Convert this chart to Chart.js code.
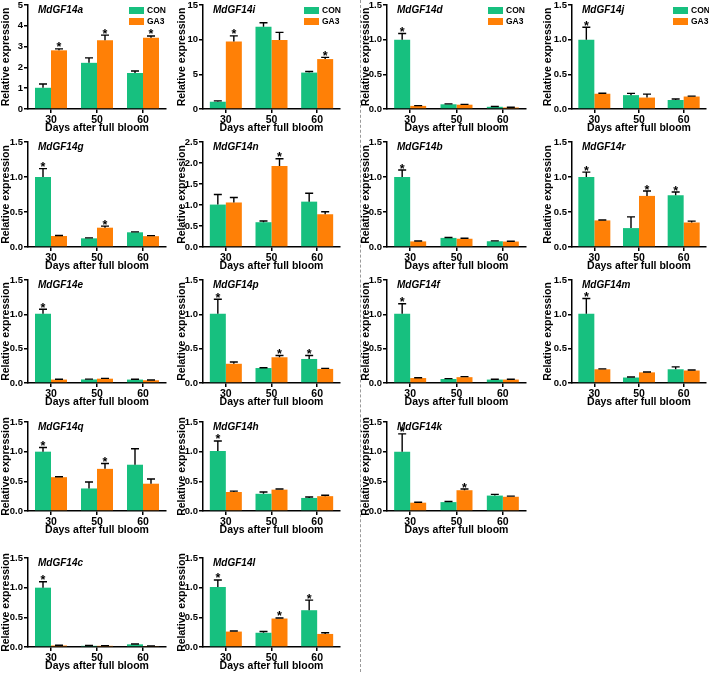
<!DOCTYPE html>
<html><head><meta charset="utf-8">
<script src="https://cdn.jsdelivr.net/npm/chart.js@4.4.0/dist/chart.umd.min.js"></script>
<style>
html,body{margin:0;padding:0;background:#fff;width:709px;height:683px;overflow:hidden;position:relative}
canvas{position:absolute}
#sep{position:absolute;left:360px;top:0;height:672px;border-left:1.5px dashed #9a9a9a}
</style></head><body>
<div id="sep"></div>
<script>
// ---------- data ----------
const days = ['30', '50', '60'];
const seriesNames = ['CON', 'GA3'];
const xTitle = 'Days after full bloom';
const yTitle = 'Relative expression';

const a_CON = [1.02, 2.22, 1.73], a_CONerr = [0.18, 0.24, 0.10];
const a_GA3 = [2.82, 3.30, 3.42], a_GA3err = [0.07, 0.25, 0.09];
const a_sig = ['G', 'G', 'G'];

const i_CON = [1.05, 11.85, 5.25], i_CONerr = [0.12, 0.60, 0.15];
const i_GA3 = [9.75, 9.95, 7.20], i_GA3err = [0.80, 1.10, 0.25];
const i_sig = ['G', '', 'G'];

const d_CON = [1.00, 0.068, 0.032], d_CONerr = [0.09, 0.006, 0.004];
const d_GA3 = [0.045, 0.062, 0.022], d_GA3err = [0.004, 0.005, 0.004];
const d_sig = ['C', '', ''];

const j_CON = [1.00, 0.20, 0.13], j_CONerr = [0.18, 0.025, 0.015];
const j_GA3 = [0.22, 0.165, 0.18], j_GA3err = [0.007, 0.05, 0.006];
const j_sig = ['C', '', ''];

const g_CON = [1.00, 0.124, 0.21], g_CONerr = [0.12, 0.006, 0.006];
const g_GA3 = [0.157, 0.276, 0.155], g_GA3err = [0.008, 0.022, 0.008];
const g_sig = ['C', 'G', ''];

const n_CON = [1.01, 0.59, 1.08], n_CONerr = [0.24, 0.03, 0.20];
const n_GA3 = [1.06, 1.93, 0.78], n_GA3err = [0.12, 0.17, 0.06];
const n_sig = ['', 'G', ''];

const b_CON = [1.00, 0.13, 0.082], b_CONerr = [0.10, 0.006, 0.005];
const b_GA3 = [0.08, 0.118, 0.078], b_GA3err = [0.005, 0.008, 0.005];
const b_sig = ['C', '', ''];

const r_CON = [1.00, 0.27, 0.74], r_CONerr = [0.07, 0.16, 0.045];
const r_GA3 = [0.38, 0.73, 0.35], r_GA3err = [0.006, 0.07, 0.02];
const r_sig = ['C', 'G', 'C'];

const e_CON = [1.01, 0.052, 0.05], e_CONerr = [0.065, 0.005, 0.004];
const e_GA3 = [0.05, 0.063, 0.04], e_GA3err = [0.005, 0.005, 0.004];
const e_sig = ['C', '', ''];

const p_CON = [1.01, 0.218, 0.35], p_CONerr = [0.21, 0.005, 0.05];
const p_GA3 = [0.28, 0.375, 0.205], p_GA3err = [0.025, 0.025, 0.008];
const p_sig = ['C', 'G', 'C'];

const f_CON = [1.01, 0.058, 0.05], f_CONerr = [0.145, 0.006, 0.004];
const f_GA3 = [0.072, 0.085, 0.05], f_GA3err = [0.005, 0.008, 0.004];
const f_sig = ['C', '', ''];

const m_CON = [1.01, 0.08, 0.20], m_CONerr = [0.22, 0.008, 0.035];
const m_GA3 = [0.20, 0.155, 0.182], m_GA3err = [0.005, 0.005, 0.008];
const m_sig = ['C', '', ''];

const q_CON = [1.00, 0.38, 0.78], q_CONerr = [0.07, 0.11, 0.27];
const q_GA3 = [0.57, 0.71, 0.46], q_GA3err = [0.008, 0.09, 0.08];
const q_sig = ['C', 'G', ''];

const h_CON = [1.01, 0.29, 0.22], h_CONerr = [0.17, 0.03, 0.015];
const h_GA3 = [0.32, 0.36, 0.25], h_GA3err = [0.015, 0.01, 0.015];
const h_sig = ['C', '', ''];

const k_CON = [1.00, 0.15, 0.26], k_CONerr = [0.30, 0.01, 0.02];
const k_GA3 = [0.14, 0.35, 0.24], k_GA3err = [0.008, 0.02, 0.01];
const k_sig = ['C', 'G', ''];

const c_CON = [1.00, 0.02, 0.045], c_CONerr = [0.10, 0.005, 0.005];
const c_GA3 = [0.025, 0.02, 0.015], c_GA3err = [0.004, 0.004, 0.004];
const c_sig = ['C', '', ''];

const l_CON = [1.01, 0.24, 0.62], l_CONerr = [0.12, 0.02, 0.17];
const l_GA3 = [0.26, 0.48, 0.22], l_GA3err = [0.01, 0.01, 0.02];
const l_sig = ['C', 'G', 'C'];

// ---------- layout / style ----------
const FONT = "Arial, 'Liberation Sans', sans-serif";
const GREEN = '#17c07f';
const ORANGE = '#ff8006';
const colLeft = [28, 203, 387, 572];
const colRight = [166, 340, 526, 706];
const colYW = [28, 27, 27, 30];
const rowTop = [5, 142, 280, 422, 558];
const rowBottom = [109, 247, 383, 511, 647];

const panels = [
  {gene:'MdGF14a', col:0, row:0, con:a_CON, conErr:a_CONerr, ga3:a_GA3, ga3Err:a_GA3err, sig:a_sig, max:5, step:1, dec:0, legend:true},
  {gene:'MdGF14i', col:1, row:0, con:i_CON, conErr:i_CONerr, ga3:i_GA3, ga3Err:i_GA3err, sig:i_sig, max:15, step:5, dec:0, legend:true},
  {gene:'MdGF14d', col:2, row:0, con:d_CON, conErr:d_CONerr, ga3:d_GA3, ga3Err:d_GA3err, sig:d_sig, max:1.5, step:0.5, dec:1, legend:true},
  {gene:'MdGF14j', col:3, row:0, con:j_CON, conErr:j_CONerr, ga3:j_GA3, ga3Err:j_GA3err, sig:j_sig, max:1.5, step:0.5, dec:1, legend:true},
  {gene:'MdGF14g', col:0, row:1, con:g_CON, conErr:g_CONerr, ga3:g_GA3, ga3Err:g_GA3err, sig:g_sig, max:1.5, step:0.5, dec:1},
  {gene:'MdGF14n', col:1, row:1, con:n_CON, conErr:n_CONerr, ga3:n_GA3, ga3Err:n_GA3err, sig:n_sig, max:2.5, step:0.5, dec:1},
  {gene:'MdGF14b', col:2, row:1, con:b_CON, conErr:b_CONerr, ga3:b_GA3, ga3Err:b_GA3err, sig:b_sig, max:1.5, step:0.5, dec:1},
  {gene:'MdGF14r', col:3, row:1, con:r_CON, conErr:r_CONerr, ga3:r_GA3, ga3Err:r_GA3err, sig:r_sig, max:1.5, step:0.5, dec:1},
  {gene:'MdGF14e', col:0, row:2, con:e_CON, conErr:e_CONerr, ga3:e_GA3, ga3Err:e_GA3err, sig:e_sig, max:1.5, step:0.5, dec:1},
  {gene:'MdGF14p', col:1, row:2, con:p_CON, conErr:p_CONerr, ga3:p_GA3, ga3Err:p_GA3err, sig:p_sig, max:1.5, step:0.5, dec:1},
  {gene:'MdGF14f', col:2, row:2, con:f_CON, conErr:f_CONerr, ga3:f_GA3, ga3Err:f_GA3err, sig:f_sig, max:1.5, step:0.5, dec:1},
  {gene:'MdGF14m', col:3, row:2, con:m_CON, conErr:m_CONerr, ga3:m_GA3, ga3Err:m_GA3err, sig:m_sig, max:1.5, step:0.5, dec:1},
  {gene:'MdGF14q', col:0, row:3, con:q_CON, conErr:q_CONerr, ga3:q_GA3, ga3Err:q_GA3err, sig:q_sig, max:1.5, step:0.5, dec:1},
  {gene:'MdGF14h', col:1, row:3, con:h_CON, conErr:h_CONerr, ga3:h_GA3, ga3Err:h_GA3err, sig:h_sig, max:1.5, step:0.5, dec:1},
  {gene:'MdGF14k', col:2, row:3, con:k_CON, conErr:k_CONerr, ga3:k_GA3, ga3Err:k_GA3err, sig:k_sig, max:1.5, step:0.5, dec:1},
  {gene:'MdGF14c', col:0, row:4, con:c_CON, conErr:c_CONerr, ga3:c_GA3, ga3Err:c_GA3err, sig:c_sig, max:1.5, step:0.5, dec:1},
  {gene:'MdGF14l', col:1, row:4, con:l_CON, conErr:l_CONerr, ga3:l_GA3, ga3Err:l_GA3err, sig:l_sig, max:1.5, step:0.5, dec:1}
];

const decorPlugin = {
  id: 'decor',
  afterDatasetsDraw(chart, args, opts) {
    const ctx = chart.ctx, ys = chart.scales.y, area = chart.chartArea;
    chart.data.datasets.forEach((ds, i) => {
      const meta = chart.getDatasetMeta(i);
      meta.data.forEach((el, j) => {
        const top = ys.getPixelForValue(ds.data[j] + ds.err[j]);
        ctx.save();
        ctx.strokeStyle = '#000'; ctx.lineWidth = 1.4;
        ctx.beginPath();
        ctx.moveTo(el.x, el.y); ctx.lineTo(el.x, top);
        ctx.moveTo(el.x - 4, top); ctx.lineTo(el.x + 4, top);
        ctx.stroke();
        if (opts.sig[j] === ds.sigKey) {
          ctx.fillStyle = '#000';
          ctx.font = 'bold 12.5px ' + FONT;
          ctx.textAlign = 'center'; ctx.textBaseline = 'alphabetic';
          ctx.fillText('*', el.x, top + 2.5);
        }
        ctx.restore();
      });
    });
    ctx.save();
    ctx.fillStyle = '#000';
    ctx.font = 'italic bold 10px ' + FONT;
    ctx.textAlign = 'left'; ctx.textBaseline = 'alphabetic';
    ctx.fillText(opts.gene, area.left + 10, area.top + 7.5);
    if (opts.legend) {
      chart.data.datasets.forEach((ds, i) => {
        const lx = area.left + 101, ly = area.top + 2 + i * 11;
        ctx.fillStyle = ds.backgroundColor;
        ctx.fillRect(lx, ly, 15, 7);
        ctx.fillStyle = '#000';
        ctx.font = 'bold 8.5px ' + FONT;
        ctx.textBaseline = 'middle';
        ctx.fillText(ds.label, lx + 18, ly + 3.5);
      });
    }
    ctx.restore();
  }
};

function makePanel(p) {
  const L = colLeft[p.col], R = colRight[p.col], T = rowTop[p.row], B = rowBottom[p.row];
  const YW = colYW[p.col], PT = 8, PR = 3, XH = 25;
  const cv = document.createElement('canvas');
  cv.width = YW + (R - L) + PR;
  cv.height = PT + (B - T) + XH;
  cv.style.left = (L - YW) + 'px';
  cv.style.top = (T - PT) + 'px';
  document.body.appendChild(cv);
  const catW = (R - L) / 3;
  new Chart(cv, {
    type: 'bar',
    data: {
      labels: days,
      datasets: [
        {label: seriesNames[0], data: p.con, err: p.conErr, sigKey: 'C', backgroundColor: GREEN, borderWidth: 0},
        {label: seriesNames[1], data: p.ga3, err: p.ga3Err, sigKey: 'G', backgroundColor: ORANGE, borderWidth: 0}
      ]
    },
    options: {
      responsive: false, animation: false, devicePixelRatio: 1,
      layout: {padding: {top: PT, right: PR, left: 0, bottom: 0}},
      datasets: {bar: {categoryPercentage: 32 / catW, barPercentage: 1}},
      plugins: {
        legend: {display: false}, tooltip: {enabled: false}, title: {display: false},
        decor: {gene: p.gene, sig: p.sig, legend: !!p.legend}
      },
      scales: {
        x: {
          offset: true,
          grid: {offset: false, drawOnChartArea: false, drawTicks: true, tickLength: 4, color: '#000', lineWidth: 1.5},
          border: {display: true, color: '#000', width: 1.5},
          ticks: {color: '#000', font: {family: FONT, size: 10.5, weight: 'bold'}, padding: 1, maxRotation: 0},
          title: {display: true, text: xTitle, color: '#000', font: {family: FONT, size: 10.5, weight: 'bold', lineHeight: 1.2}, padding: {top: 0, bottom: 0}},
          afterFit(s) { s.height = XH; }
        },
        y: {
          min: 0, max: p.max,
          grid: {drawOnChartArea: false, drawTicks: true, tickLength: 4, color: '#000', lineWidth: 1.5},
          border: {display: true, color: '#000', width: 1.5},
          ticks: {stepSize: p.step, color: '#000', font: {family: FONT, size: 9.5, weight: 'bold'}, padding: 1,
                  callback: v => Number(v).toFixed(p.dec)},
          title: {display: true, text: yTitle, color: '#000', font: {family: FONT, size: 10.5, weight: 'bold', lineHeight: 1.2}, padding: {top: 0, bottom: 0}},
          afterFit(s) { s.width = YW; }
        }
      }
    },
    plugins: [decorPlugin]
  });
}
panels.forEach(makePanel);
</script>
</body></html>
